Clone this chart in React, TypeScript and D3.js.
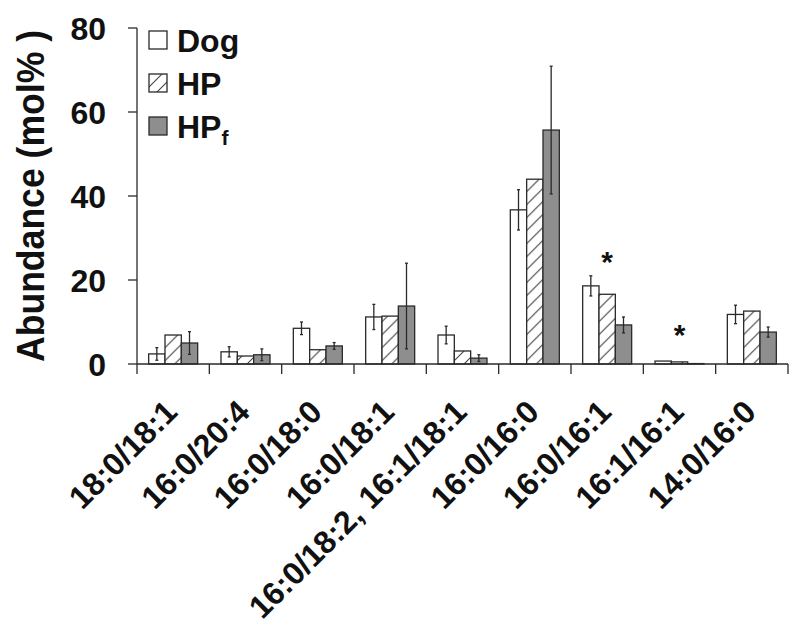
import React from "react";
import * as d3 from "d3";

const categories = [
  "18:0/18:1",
  "16:0/20:4",
  "16:0/18:0",
  "16:0/18:1",
  "16:0/18:2, 16:1/18:1",
  "16:0/16:0",
  "16:0/16:1",
  "16:1/16:1",
  "14:0/16:0",
];
const series = ["Dog", "HP", "HPf"];
const dogValues = [2.4, 2.9, 8.5, 11.2, 6.9, 36.7, 18.6, 0.7, 11.8];
const dogErrors = [1.5, 1.2, 1.5, 3.0, 2.1, 4.8, 2.4, 0, 2.2];
const hpValues = [6.9, 1.9, 3.4, 11.4, 3.1, 44.0, 16.6, 0.5, 12.6];
const hpErrors = [0, 0, 0, 0, 0, 0, 0, 0, 0];
const hpfValues = [5.0, 2.2, 4.3, 13.8, 1.4, 55.7, 9.3, 0.1, 7.6];
const hpfErrors = [2.7, 1.4, 0.8, 10.2, 0.8, 15.2, 1.9, 0, 1.2];
const yTicks = [0, 20, 40, 60, 80];
const starCategories = ["16:0/16:1", "16:1/16:1"];
const starValues = [21.9, 4.5];

const FONT = "Arial, 'Liberation Sans', Helvetica, sans-serif";

export default function App() {
  const W = 800;
  const H = 631;
  const x0 = d3.scaleBand<string>().domain(categories).range([137, 788]).paddingInner(0).paddingOuter(0);
  const groupW = 49;
  const x1 = d3.scaleBand<string>().domain(series).range([0, groupW]);
  const y = d3.scaleLinear().domain([0, 80]).range([364, 28]);
  const offset = (x0.bandwidth() - groupW) / 2;

  const values: Record<string, number[]> = { Dog: dogValues, HP: hpValues, HPf: hpfValues };
  const errors: Record<string, number[]> = { Dog: dogErrors, HP: hpErrors, HPf: hpfErrors };
  const fills: Record<string, string> = { Dog: "#ffffff", HP: "url(#hatch)", HPf: "#8e8e8e" };
  const stroke = "#2a2a2a";

  const boundaries = [...categories.map((c) => x0(c) as number), 788];

  return (
    <div style={{ position: "absolute", left: 0, top: 0 }}>
      <svg width={W} height={H} style={{ display: "block", background: "#fff" }}>
        <defs>
          <pattern id="hatch" patternUnits="userSpaceOnUse" width="13" height="13">
            <rect width="13" height="13" fill="#fff" />
            <path d="M0,13 L13,0 M-3,3 L3,-3 M10,16 L16,10" stroke="#444" strokeWidth="1.1" />
          </pattern>
        </defs>

        {/* bars */}
        {categories.map((c, i) => (
          <g key={c} transform={`translate(${(x0(c) as number) + offset},0)`}>
            {series.map((s) => {
              const v = values[s][i];
              const bx = x1(s) as number;
              const bw = x1.bandwidth();
              const e = errors[s][i];
              return (
                <g key={s}>
                  <rect
                    x={bx}
                    y={y(v)}
                    width={bw}
                    height={y(0) - y(v)}
                    fill={fills[s]}
                    stroke={stroke}
                    strokeWidth={1.3}
                  />
                  {e > 0 && (
                    <g stroke={stroke} strokeWidth={1.3}>
                      <line x1={bx + bw / 2} x2={bx + bw / 2} y1={y(v - e)} y2={y(v + e)} />
                      <line x1={bx + bw / 2 - 1.5} x2={bx + bw / 2 + 1.5} y1={y(v + e)} y2={y(v + e)} />
                      <line x1={bx + bw / 2 - 1.5} x2={bx + bw / 2 + 1.5} y1={y(v - e)} y2={y(v - e)} />
                    </g>
                  )}
                </g>
              );
            })}
          </g>
        ))}

        {/* y axis */}
        <line x1={137} x2={137} y1={y(80)} y2={y(0)} stroke={stroke} strokeWidth={1.3} />
        {yTicks.map((t) => (
          <g key={t}>
            <line x1={128} x2={137} y1={y(t)} y2={y(t)} stroke={stroke} strokeWidth={1.3} />
            <text
              x={106}
              y={y(t)}
              dy="0.36em"
              textAnchor="end"
              fontFamily={FONT}
              fontWeight="bold"
              fontSize={32}
              fill="#111"
            >
              {t}
            </text>
          </g>
        ))}
        <text
          transform={`translate(44,196) rotate(-90)`}
          textAnchor="middle"
          fontFamily={FONT}
          fontWeight="bold"
          fontSize={38}
          textLength={332}
          lengthAdjust="spacingAndGlyphs"
          fill="#111"
        >
          Abundance (mol% )
        </text>

        {/* x axis */}
        <line x1={137} x2={788} y1={y(0)} y2={y(0)} stroke={stroke} strokeWidth={1.3} />
        {boundaries.map((b, i) => (
          <line key={i} x1={b} x2={b} y1={y(0)} y2={y(0) + 10} stroke={stroke} strokeWidth={1.3} />
        ))}
        {categories.map((c) => (
          <text
            key={c}
            transform={`translate(${(x0(c) as number) + x0.bandwidth() / 2 + 6},414) rotate(-45)`}
            textAnchor="end"
            fontFamily={FONT}
            fontWeight="bold"
            fontSize={32}
            fill="#111"
          >
            {c}
          </text>
        ))}

        {/* significance stars */}
        {starCategories.map((c, i) => (
          <text
            key={c}
            x={(x0(c) as number) + x0.bandwidth() / 2}
            y={y(starValues[i])}
            textAnchor="middle"
            fontFamily={FONT}
            fontWeight="bold"
            fontSize={30}
            fill="#111"
          >
            *
          </text>
        ))}

        {/* legend */}
        {series.map((s, i) => (
          <g key={s} transform={`translate(149,${31 + i * 43})`}>
            <rect width={18} height={18} fill={fills[s]} stroke={stroke} strokeWidth={1.3} />
            <text x={28} y={21} fontFamily={FONT} fontWeight="bold" fontSize={32} fill="#111">
              {s === "HPf" ? (
                <>
                  HP
                  <tspan fontSize={21} dy={7}>
                    f
                  </tspan>
                </>
              ) : (
                s
              )}
            </text>
          </g>
        ))}
      </svg>
    </div>
  );
}
